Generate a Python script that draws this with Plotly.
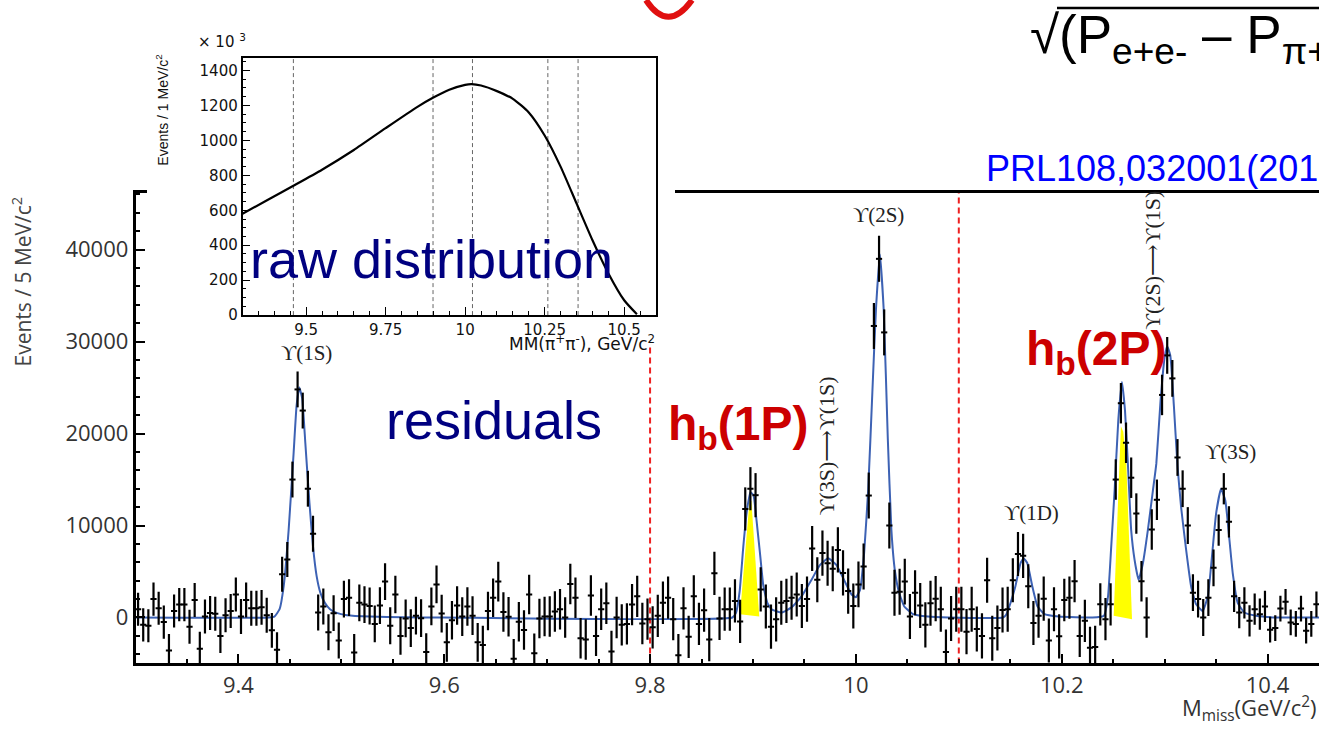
import plotly.graph_objects as go

W, H = 1319, 735

# ---------------- data ----------------
BIN_LO, BIN_W = 9.3, 0.005          # 5 MeV bins, 9.30 .. 10.45 GeV
residuals = [
    900, -800, -900, 2000, 1000, -500, -3600, 700, 1400, 1400,
    -1000, 1900, -3400, 100, 500, 400, -2000, 250, 700, 2500,
    100, 1900, 1000, 1000, 1100, 250, -1400, -3500, 4700, 6300,
    15000, 24800, 22500, 14000, 9100, 540, 1200, -1600, 470, -2500,
    2000, 2150, -3800, 1600, 1400, 1250, -700, 1300, 3900, -900,
    2500, -2000, -100, -1150, 200, -70, -3760, 1200, 3600, 430,
    -2700, -300, 1300, 100, 1200, 200, -2700, -3000, 700, 2150,
    3900, 600, 70, -4500, -470, -1360, 2500, -3900, -100, 100,
    100, 650, 900, 0, 3650, 2150, -2250, -2400, 2400, -2000,
    900, 1550, -3700, 0, -800, -700, 1400, 2300, -650, -180,
    -1070, 180, 1600, 2150, -180, -4100, 1000, -2100, 2300, -700,
    800, -2400, 4800, -100, 900, 900, 1800, -430, 11800, 14000,
    13300, 3050, 1200, -1000, -200, 1600, 1800, 2150, 2500, 1250,
    2000, 7500, 4100, 7000, 5900, 5300, 7350, 4850, 2870, 1250,
    3600, 5550, 13260, 31700, 39000, 31000, 10000, 2700, 2800, 3900,
    100, 2700, 1300, -800, 1550, 2050, 900, -3760, -100, 900,
    900, -1540, 900, -1250, -2000, 4050, -2250, -1150, 820, 900,
    4050, 6900, 6700, 3400, -600, 200, 2050, -2500, 900, -2050,
    1900, 2150, 3950, -2000, -360, -3300, -3200, 1430, -180, 1430,
    15000, 23300, 19000, 15200, 11300, 3950, 0, 9570, 12800, 24200,
    28500, 26000, 17400, 14000, 10000, 2700, 2000, 0, 2150, 5400,
    9500, 14000, 10400, 2300, 540, 1600, -360, 900, 360, 1200,
    -1330, -1150, 970, 1700, -540, -700, 970, -1430, -700, 1430,
]
# error bar half-length, one value per 50 MeV (10 bins)
err_per_50mev = [1800, 1850, 1900, 1950, 2000, 2050, 2100, 2150, 2200, 2250,
                 2300, 2350, 2400, 2450, 2500, 2450, 2450, 2400, 2300, 2200,
                 2000, 1700, 1400]

fit_x = [9.300, 9.430, 9.435, 9.440, 9.444, 9.4488, 9.4537, 9.4565, 9.4592, 9.4620,
         9.4650, 9.4690, 9.4725, 9.4760, 9.4796, 9.4840, 9.4890, 9.4955, 9.5055, 9.528,
         9.560, 9.600, 9.880, 9.8835, 9.8870, 9.8906, 9.8940, 9.8975, 9.9005, 9.9035,
         9.9068, 9.9100, 9.9140, 9.9180, 9.9277, 9.9375, 9.9472, 9.9569, 9.9650, 9.9731,
         9.9812, 9.9893, 9.9958, 10.0000, 10.0040, 10.0080, 10.0120, 10.0160, 10.0195, 10.0233,
         10.0270, 10.0310, 10.0345, 10.0380, 10.0420, 10.0470, 10.0550, 10.0700, 10.0900, 10.1430,
         10.1460, 10.1503, 10.1550, 10.1600, 10.1630, 10.1666, 10.1714, 10.1763, 10.1828, 10.1973,
         10.2300, 10.2410, 10.2450, 10.2481, 10.2514, 10.2550, 10.2585, 10.2615, 10.2643, 10.2675,
         10.2708, 10.2747, 10.2789, 10.2837, 10.2886, 10.2919, 10.2960, 10.3000, 10.3025, 10.3055,
         10.3090, 10.3125, 10.3160, 10.3209, 10.3257, 10.3306, 10.3370, 10.3420, 10.3451, 10.3500,
         10.3548, 10.3590, 10.3630, 10.3662, 10.3710, 10.3775, 10.3888, 10.4080, 10.4500]
fit_y = [0, 0, 100, 900, 3400, 9500, 18000, 23000, 25000, 23800,
         19000, 12500, 7700, 4500, 2700, 1600, 900, 500, 250, 100,
         30, 0, 0, 500, 2800, 7700, 11500, 13600, 13300, 10500,
         7000, 3500, 1600, 900, 540, 1100, 2300, 4100, 5700, 6450,
         5700, 3900, 2500, 2200, 3000, 7000, 14000, 24500, 33500, 39500,
         33500, 19500, 9500, 5000, 2700, 1200, 400, 100, 0, 0,
         300, 1600, 3400, 5900, 6450, 5900, 3400, 1250, 400, 100,
         0, 200, 2300, 7700, 13800, 21500, 25600, 22500, 16700, 9500,
         6270, 4100, 5900, 9500, 13800, 16700, 23500, 28300, 29500, 28500,
         23000, 16500, 12000, 7350, 3400, 1430, 700, 2300, 5550, 11300,
         14000, 12700, 8400, 4800, 1600, 540, 180, 0, 0]

hb1p_shade_x = [9.8874, 9.8968, 9.8985, 9.9061]
hb1p_shade_y = [360, 12900, 12600, 110]
hb2p_shade_x = [10.2505, 10.2575, 10.2598, 10.2628, 10.2683]
hb2p_shade_y = [180, 20800, 20200, 16700, -200]

signal_bounds = [9.8, 10.1]

raw_x = [9.30, 9.38, 9.46, 9.55, 9.65, 9.75, 9.85, 9.90, 9.95, 10.00,
         10.02, 10.05, 10.10, 10.15, 10.20, 10.25, 10.30, 10.35, 10.40, 10.45,
         10.50, 10.54]
raw_y = [580, 660, 740, 832, 945, 1070, 1192, 1245, 1290, 1318,
         1322, 1314, 1282, 1238, 1160, 1028, 850, 640, 430, 240,
         85, 5]
inset_peaks = [9.460, 9.899, 10.023, 10.260, 10.355]

main_xticks = [9.4, 9.6, 9.8, 10.0, 10.2, 10.4]
main_xlabels = ["9.4", "9.6", "9.8", "10", "10.2", "10.4"]
main_yticks = [0, 10000, 20000, 30000, 40000]
inset_xticks = [9.5, 9.75, 10.0, 10.25, 10.5]
inset_xlabels = ["9.5", "9.75", "10", "10.25", "10.5"]
inset_yticks = [0, 200, 400, 600, 800, 1000, 1200, 1400]

X_RANGE = [9.3, 10.45]
Y_RANGE = [-5000, 46200]
IX_RANGE = [9.3, 10.6]
IY_RANGE = [0, 1470]

# ---------------- helpers ----------------
def fx(p):
    return p / W

def fy(p):
    return 1 - p / H

centers = [BIN_LO + BIN_W * (i + 0.5) for i in range(len(residuals))]
errors = [err_per_50mev[min(i // 10, len(err_per_50mev) - 1)] for i in range(len(residuals))]

fig = go.Figure()

# yellow signal shading
for sx, sy in [(hb1p_shade_x, hb1p_shade_y), (hb2p_shade_x, hb2p_shade_y)]:
    fig.add_trace(go.Scatter(x=sx + [sx[0]], y=sy + [sy[0]], mode="lines", fill="toself",
                             fillcolor="#ffff00", line=dict(width=0, color="#ffff00"),
                             hoverinfo="skip", xaxis="x", yaxis="y"))

# red dashed boundaries
for b in signal_bounds:
    fig.add_trace(go.Scatter(x=[b, b], y=Y_RANGE, mode="lines",
                             line=dict(color="#ee2020", width=2, dash="6px,4px"),
                             hoverinfo="skip", xaxis="x", yaxis="y"))

# fit curve
fig.add_trace(go.Scatter(x=fit_x, y=fit_y, mode="lines",
                         line=dict(color="#3d62b4", width=2, shape="spline", smoothing=0.4),
                         xaxis="x", yaxis="y"))

# residual data points
fig.add_trace(go.Scatter(x=centers, y=residuals, mode="markers",
                         marker=dict(size=1, color="black"),
                         error_y=dict(type="data", array=errors, thickness=2.2, width=0, color="black"),
                         error_x=dict(type="constant", value=0.003, thickness=2, width=0, color="black"),
                         xaxis="x", yaxis="y"))

# white panel behind the inset
fig.add_trace(go.Scatter(x=[0, 1, 1, 0, 0], y=[0, 0, 1, 1, 0], mode="lines", fill="toself",
                         fillcolor="white", line=dict(width=0, color="white"),
                         hoverinfo="skip", xaxis="x2", yaxis="y2"))

# inset
for p in inset_peaks:
    fig.add_trace(go.Scatter(x=[p, p], y=IY_RANGE, mode="lines",
                             line=dict(color="#666666", width=1, dash="4px,3px"),
                             hoverinfo="skip", xaxis="x3", yaxis="y3"))
fig.add_trace(go.Scatter(x=raw_x, y=raw_y, mode="lines",
                         line=dict(color="black", width=2.2, shape="spline", smoothing=0.6),
                         xaxis="x3", yaxis="y3"))

tickfont_main = dict(family="Open Sans, Noto Sans, sans-serif", size=22, color="#333333")
tickfont_inset = dict(family="DejaVu Sans, sans-serif", size=15, color="#111111")

fig.update_layout(
    width=W, height=H, margin=dict(l=0, r=0, t=0, b=0),
    paper_bgcolor="white", plot_bgcolor="white", showlegend=False,
    xaxis=dict(domain=[fx(135.5), 1.0], range=X_RANGE, anchor="y",
               tickmode="array", tickvals=main_xticks, ticktext=main_xlabels,
               ticks="inside", ticklen=10, tickwidth=2, tickcolor="black",
               minor=dict(dtick=0.05, tick0=9.3, ticks="inside", ticklen=5, tickwidth=1.5, tickcolor="black"),
               showline=True, linecolor="black", linewidth=2.5, mirror=True,
               showgrid=False, zeroline=False, tickfont=tickfont_main),
    yaxis=dict(domain=[fy(671.7), fy(195)], range=Y_RANGE, anchor="x",
               tickmode="array", tickvals=main_yticks, ticktext=[str(v) for v in main_yticks],
               ticks="inside", ticklen=10, tickwidth=2, tickcolor="black",
               minor=dict(dtick=2000, tick0=0, ticks="inside", ticklen=5, tickwidth=1.5, tickcolor="black"),
               showline=True, linecolor="black", linewidth=2.5, mirror=False,
               showgrid=False, zeroline=False, tickfont=tickfont_main),
    xaxis2=dict(domain=[fx(147), fx(675)], range=[0, 1], anchor="y2", visible=False, fixedrange=True),
    yaxis2=dict(domain=[fy(350), 1.0], range=[0, 1], anchor="x2", visible=False, fixedrange=True),
    xaxis3=dict(domain=[fx(242.5), fx(656)], range=IX_RANGE, anchor="y3",
                tickmode="array", tickvals=inset_xticks, ticktext=inset_xlabels,
                ticks="inside", ticklen=8, tickwidth=1.2, tickcolor="black",
                minor=dict(dtick=0.05, tick0=9.3, ticks="inside", ticklen=4, tickwidth=1, tickcolor="black"),
                showline=True, linecolor="black", linewidth=1.5, mirror=True,
                showgrid=False, zeroline=False, tickfont=tickfont_inset),
    yaxis3=dict(domain=[fy(319), fy(59)], range=IY_RANGE, anchor="x3",
                tickmode="array", tickvals=inset_yticks, ticktext=[str(v) for v in inset_yticks],
                ticks="inside", ticklen=8, tickwidth=1.2, tickcolor="black",
                minor=dict(dtick=50, tick0=0, ticks="inside", ticklen=4, tickwidth=1, tickcolor="black"),
                showline=True, linecolor="black", linewidth=1.5, mirror=True,
                showgrid=False, zeroline=False, tickfont=tickfont_inset),
)

serif = "Liberation Serif, DejaVu Serif, serif"
sans = "Liberation Sans, Arial, sans-serif"
ann = []
def A(text, x, y, size, color="black", family=sans, angle=0, xa="center", ya="middle"):
    ann.append(dict(text=text, x=fx(x), y=fy(y), xref="paper", yref="paper",
                    showarrow=False, textangle=angle, xanchor=xa, yanchor=ya,
                    font=dict(size=size, color=color, family=family)))

A("Events / 5 MeV/c<sup>2</sup>", 22, 285, 21, "#444444", "Open Sans, sans-serif", -90)
A("M<sub>miss</sub>(GeV/c<sup>2</sup>)", 1318, 717, 22, "#333333", "Open Sans, sans-serif", xa="right")
A("ϒ(1S)", 306, 357, 21, "#222222", serif)
A("ϒ(2S)", 878, 218, 21, "#222222", serif)
A("ϒ(3S)⟶ϒ(1S)", 826, 452, 22, "#222222", serif, -90)
A("ϒ(1D)", 1031, 519, 21, "#222222", serif)
A("ϒ(2S)⟶ϒ(1S)", 1153, 264, 22, "#222222", serif, -90)
A("ϒ(3S)", 1230, 458, 21, "#222222", serif)
A("<b>h<sub>b</sub>(1P)</b>", 666, 432, 48, "#cc0000", sans, xa="left")
A("<b>h<sub>b</sub>(2P)</b>", 1024, 356, 48, "#cc0000", sans, xa="left")
A("residuals", 384, 425, 54, "#000080", sans, xa="left")
A("raw distribution", 248, 262, 54, "#000080", sans, xa="left")
A("PRL108,032001(2012)", 984, 171, 36, "#0000ff", sans, xa="left")
A("√(P<sub>e+e-</sub> – P<sub>π+π-</sub>)<sup>2</sup>", 1028, 35, 53, "black", sans, xa="left")
A("Events / 1 MeV/c<sup>2</sup>", 162, 112, 14, "#111111", sans, -90)
A("MM(π<sup>+</sup>π<sup>-</sup>), GeV/c<sup>2</sup>", 657, 347, 17, "#111111", "DejaVu Sans, sans-serif", xa="right")
A("× 10 <sup>3</sup>", 196, 42, 15, "#111111", "DejaVu Sans, sans-serif", xa="left")
fig.update_layout(annotations=ann)

# vinculum of the square root and the red mark at the top edge
fig.update_layout(shapes=[
    dict(type="line", xref="paper", yref="paper", x0=fx(1057), x1=1.0, y0=fy(8), y1=fy(8),
         line=dict(color="black", width=2.5)),
    dict(type="path", xref="paper", yref="paper",
         path=f"M {fx(646)} {fy(0)} Q {fx(668)} {fy(34)} {fx(692)} {fy(0)}",
         line=dict(color="#e01010", width=6)),
])

fig.write_html("out.html", config={"displayModeBar": False},
               post_script="document.body.style.margin='0';")
